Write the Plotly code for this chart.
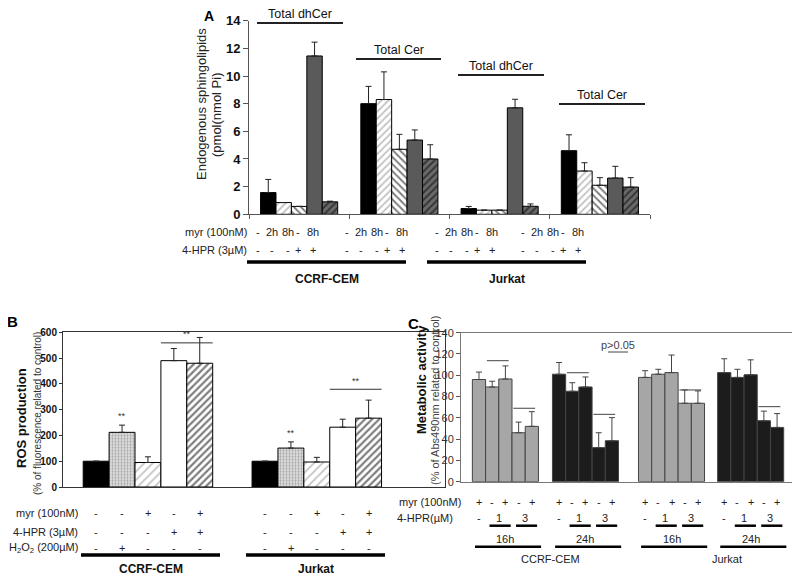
import plotly.graph_objects as go

# ---------------- data ----------------
# Panel A: endogenous sphingolipids (pmol/nmol Pi)
a_groups = ['Total dhCer CEM', 'Total Cer CEM', 'Total dhCer Jurkat', 'Total Cer Jurkat']
a_titles = ['Total dhCer', 'Total Cer', 'Total dhCer', 'Total Cer']
a_ctrl = [1.57, 8.0, 0.42, 4.6]
a_ctrl_sd = [0.95, 1.25, 0.15, 1.15]
a_myr2h = [0.85, 8.3, 0.3, 3.13]
a_myr2h_sd = [0.0, 2.0, 0.0, 0.6]
a_myr8h = [0.57, 4.7, 0.3, 2.1]
a_myr8h_sd = [0.0, 1.08, 0.0, 0.55]
a_hpr = [11.45, 5.37, 7.7, 2.62]
a_hpr_sd = [1.0, 0.73, 0.62, 0.85]
a_combo = [0.9, 4.0, 0.58, 1.97]
a_combo_sd = [0.05, 1.03, 0.17, 0.68]
a_myr_row = ['-', '2h', '8h', '-', '8h']
a_hpr_row = ['-', '-', '-', '+', '+']

# Panel B: ROS production (% of control)
b_cells = ['CCRF-CEM', 'Jurkat']
b_ctrl = [100, 100]
b_ctrl_sd = [0, 0]
b_h2o2 = [212, 151]
b_h2o2_sd = [28, 24]
b_myr = [95, 97]
b_myr_sd = [22, 18]
b_hpr = [490, 232]
b_hpr_sd = [47, 31]
b_combo = [480, 267]
b_combo_sd = [100, 70]
b_myr_row = ['-', '-', '+', '-', '+']
b_hpr_row = ['-', '-', '-', '+', '+']
b_h2o2_row = ['-', '+', '-', '-', '-']

# Panel C: metabolic activity (% of control)
c_groups = ['16h CEM', '24h CEM', '16h Jurkat', '24h Jurkat']
c_times = ['16h', '24h', '16h', '24h']
c_myr = [96, 101, 98, 102.5]
c_myr_sd = [7, 11, 6.3, 13]
c_hpr1 = [89, 85, 101, 98]
c_hpr1_sd = [5.4, 8, 4.6, 7.6]
c_hpr1_myr = [96.5, 89, 102.5, 100.5]
c_hpr1_myr_sd = [12.3, 9.4, 16.5, 14]
c_hpr3 = [46, 32, 73.7, 57.3]
c_hpr3_sd = [10, 14, 12.5, 9]
c_hpr3_myr = [52, 38.5, 73.7, 51]
c_hpr3_myr_sd = [13.8, 21.7, 11.6, 13]
c_myr_row = ['+', '-', '+', '-', '+']
c_hpr_row = ['-', '1', '3']

# the page body adds an 8px offset, compensate here
OFF = 8


def px(x):
    return (x - OFF) / 800


def py(y):
    return 1 - (y - OFF) / 578


FONT = 'Liberation Sans, Arial, sans-serif'
NARROW = 'Liberation Sans Narrow, Arial Narrow, Liberation Sans, sans-serif'

fig = go.Figure()
annotations = []
shapes = []


def err(sd, color='#222'):
    return dict(type='data', array=sd, arrayminus=[0] * len(sd), symmetric=False,
                color=color, thickness=1, width=3)


def note(text, x, y, size=11, color='#222', xref='paper', yref='paper', **kw):
    kw.setdefault('xanchor', 'center')
    kw.setdefault('yanchor', 'middle')
    annotations.append(dict(text=text, x=x, y=y, xref=xref, yref=yref, showarrow=False,
                            font=dict(size=size, color=color, family=FONT), **kw))


def hline(x0, x1, y, width=1, color='black', xref='paper', yref='paper'):
    shapes.append(dict(type='line', xref=xref, yref=yref, x0=x0, x1=x1, y0=y, y1=y,
                       line=dict(color=color, width=width)))


# ---------------- Panel A ----------------
a_gw = 6.5
a_start = [g * a_gw + 0.75 for g in range(4)]
a_series = [
    (a_ctrl, a_ctrl_sd, dict(color='black')),
    (a_myr2h, a_myr2h_sd, dict(color='white', pattern=dict(shape='/', fgcolor='#888', bgcolor='white', size=5, solidity=0.35))),
    (a_myr8h, a_myr8h_sd, dict(color='white', pattern=dict(shape='\\', fgcolor='black', bgcolor='white', size=5, solidity=0.4))),
    (a_hpr, a_hpr_sd, dict(color='#5a5a5a')),
    (a_combo, a_combo_sd, dict(color='#5a5a5a', pattern=dict(shape='/', fgcolor='black', bgcolor='#6a6a6a', size=5, solidity=0.4))),
]
for k, (vals, sd, mk) in enumerate(a_series):
    mk = dict(mk, line=dict(color='black', width=1))
    fig.add_trace(go.Bar(x=[s + k + 0.5 for s in a_start], y=vals, width=1, marker=mk,
                         error_y=err(sd), xaxis='x', yaxis='y'))

a_line_y = [23, 59, 75, 104]
a_line_x = [(257, 343), (356, 441), (458, 544), (559, 645)]
for g in range(4):
    x0, x1 = a_line_x[g]
    hline(px(x0), px(x1), py(a_line_y[g]), width=2, color='#222')
    note(a_titles[g], px((x0 + x1) / 2), py(a_line_y[g]), size=12.5, color='#111', yanchor='bottom')

a_tab_start = [258, 347, 437, 523]
a_tab_off = [0, 14, 29.5, 40, 55]
for label, row, yy in [('myr (100nM)', a_myr_row, 232), ('4-HPR (3µM)', a_hpr_row, 250)]:
    note(label, px(249), py(yy), xanchor='right')
    for s in a_tab_start:
        for o, t in zip(a_tab_off, row):
            note(t, px(s + o), py(yy))
for (x0, x1), name in [((247, 406), 'CCRF-CEM'), ((427, 586), 'Jurkat')]:
    hline(px(x0), px(x1), py(262), width=3.5)
    note('<b>' + name + '</b>', px((x0 + x1) / 2), py(279), size=12, color='#111')

note('Endogenous sphingolipids', px(201), py(104), size=13, textangle=-90)
note('(pmol(nmol Pi)', px(216), py(115), size=13, textangle=-90)
note('<b>A</b>', px(209), py(16), size=14, color='black')

# ---------------- Panel B ----------------
b_start = [0.78, 7.3]
b_series = [
    (b_ctrl, b_ctrl_sd, dict(color='black')),
    (b_h2o2, b_h2o2_sd, dict(color='#d8d8d8', pattern=dict(shape='.', fgcolor='#666', bgcolor='#e6e6e6', size=3, solidity=0.45))),
    (b_myr, b_myr_sd, dict(color='white', pattern=dict(shape='/', fgcolor='#888', bgcolor='white', size=6, solidity=0.3))),
    (b_hpr, b_hpr_sd, dict(color='white')),
    (b_combo, b_combo_sd, dict(color='white', pattern=dict(shape='/', fgcolor='black', bgcolor='white', size=5, solidity=0.45))),
]
for k, (vals, sd, mk) in enumerate(b_series):
    mk = dict(mk, line=dict(color='black', width=1))
    fig.add_trace(go.Bar(x=[s + k + 0.5 for s in b_start], y=vals, width=1, marker=mk,
                         error_y=err(sd), xaxis='x2', yaxis='y2'))

# significance marks
for g in range(2):
    note('**', b_start[g] + 1.5, b_h2o2[g] + b_h2o2_sd[g] + 8, size=9, color='#333',
         xref='x2', yref='y2', yanchor='bottom')
for g, yl in [(0, 559), (1, 379)]:
    x0, x1 = b_start[g] + 3, b_start[g] + 5
    hline(x0, x1, yl, color='#333', xref='x2', yref='y2')
    note('**', (x0 + x1) / 2, yl + 6, size=9, color='#333', xref='x2', yref='y2', yanchor='bottom')

for label, row, yy in [('myr (100nM)', b_myr_row, 512.7), ('4-HPR (3µM)', b_hpr_row, 531.7),
                       ('H<sub>2</sub>O<sub>2</sub> (200µM)', b_h2o2_row, 548.3)]:
    note(label, px(80), py(yy), xanchor='right')
    for s in b_start:
        for k, t in enumerate(row):
            note(t, s + k + 0.5, py(yy), xref='x2')
for (x0, x1), name in [((81, 220), b_cells[0]), ((246, 385), b_cells[1])]:
    hline(px(x0), px(x1), py(555), width=3.5)
    note('<b>' + name + '</b>', px((x0 + x1) / 2), py(568.5), size=12, color='#111')

note('<b>ROS production</b>', px(21), py(418), size=13, color='#111', textangle=-90)
note('(% of fluorescence related to control)', px(37), py(414), size=10, color='#333', textangle=-90)
note('<b>B</b>', px(12), py(321), size=15, color='black')

# ---------------- Panel C ----------------
c_start = [0.86, 6.92, 13.43, 19.42]
c_colors = ['#a6a6a6', '#1c1c1c', '#a6a6a6', '#1c1c1c']
c_series = [(c_myr, c_myr_sd), (c_hpr1, c_hpr1_sd), (c_hpr1_myr, c_hpr1_myr_sd),
            (c_hpr3, c_hpr3_sd), (c_hpr3_myr, c_hpr3_myr_sd)]
for k, (vals, sd) in enumerate(c_series):
    fig.add_trace(go.Bar(x=[s + k + 0.5 for s in c_start], y=vals, width=1,
                         marker=dict(color=c_colors, line=dict(color='#444', width=1)),
                         error_y=err(sd, '#444'), xaxis='x3', yaxis='y3'))

c_sig = [(0, 1, 113.7), (0, 3, 69), (1, 1, 102.4), (1, 3, 63.3), (2, 3, 86.2), (3, 3, 70.5)]
for g, k, yl in c_sig:
    hline(c_start[g] + k + 0.1, c_start[g] + k + 1.75, yl, color='#444', xref='x3', yref='y3')
note('p>0.05', px(618), py(345), color='#444')
hline(px(608), px(628), py(352), color='#444')

note('myr (100nM)', px(463), py(502.3), xanchor='right')
note('4-HPR(µM)', px(455), py(517.7), xanchor='right')
for g, s in enumerate(c_start):
    for k, t in enumerate(c_myr_row):
        note(t, s + k + 0.5, py(502.3), xref='x3')
    for xo, t in zip([0.5, 2, 4], c_hpr_row):
        note(t, s + xo, py(517.7), xref='x3')
    for k in (1, 3):
        hline(s + k + 0.3, s + k + 1.9, py(525.7), width=2.5, xref='x3')
    note(c_times[g], s + 2.5, py(539), xref='x3')
    hline(s + 0.2, s + 5.2, py(546.7), width=2.5, xref='x3')
for xc, name in [(550, 'CCRF-CEM'), (727, 'Jurkat')]:
    note(name, px(xc), py(558.5))

note('<b>Metabolic activity</b>', px(421), py(380), size=13, color='#111', textangle=-90)
note('(% of Abs490nm related to control)', px(435), py(400), size=11, color='#444', textangle=-90)
note('<b>C</b>', px(413), py(323), size=15, color='black')

# ---------------- layout ----------------
fig.update_layout(
    width=800, height=578,
    margin=dict(l=0, r=0, t=0, b=0, autoexpand=False),
    paper_bgcolor='white', plot_bgcolor='white',
    showlegend=False, barmode='overlay',
    annotations=annotations, shapes=shapes,
    xaxis=dict(domain=[px(249), px(650)], range=[0, 4 * a_gw], anchor='y', showgrid=False, zeroline=False,
               showline=True, linecolor='#555', linewidth=1, tickmode='array',
               tickvals=[a_gw * i for i in range(5)], ticks='outside', ticklen=4, tickcolor='#555',
               showticklabels=False),
    yaxis=dict(domain=[py(214.3), py(20.7)], range=[0, 14], anchor='x', dtick=2, showgrid=False,
               zeroline=False, showline=True, linecolor='#555', linewidth=1, ticks='outside', ticklen=5,
               tickcolor='#555', tickfont=dict(size=13, family=FONT, color='#111', weight='bold')),
    xaxis2=dict(domain=[px(63), px(445)], range=[0, 14.75], anchor='y2', showgrid=False, zeroline=False,
                showline=True, mirror=True, linecolor='#333', linewidth=1, showticklabels=False, ticks=''),
    yaxis2=dict(domain=[py(487), py(332.3)], range=[0, 600], anchor='x2', dtick=100, showgrid=False,
                zeroline=False, showline=True, mirror=True, linecolor='#333', linewidth=1, ticks='outside',
                ticklen=3, tickcolor='#333', tickfont=dict(size=10, family=NARROW, color='#111', weight='bold')),
    xaxis3=dict(domain=[px(461), px(794)], range=[0, 25.2], anchor='y3', showgrid=False, zeroline=False,
                showline=True, mirror=True, linecolor='#777', linewidth=1, showticklabels=False, ticks=''),
    yaxis3=dict(domain=[py(481.7), py(332.7)], range=[0, 140], anchor='x3', dtick=20, showgrid=False,
                zeroline=False, showline=True, mirror=True, linecolor='#777', linewidth=1, ticks='outside',
                ticklen=4, tickcolor='#555', tickfont=dict(size=11, family=FONT, color='#333')),
)

fig.write_html("out.html")
